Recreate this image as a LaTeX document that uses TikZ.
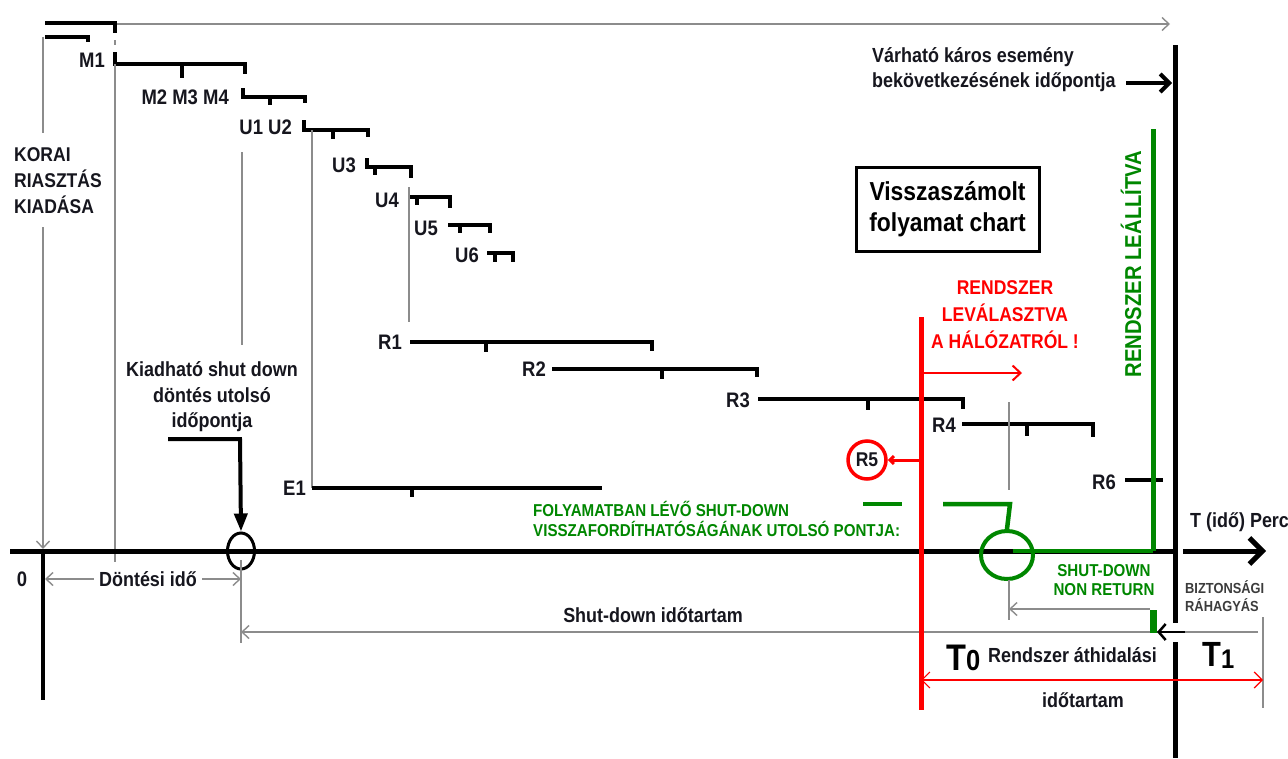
\documentclass[tikz,border=0pt]{standalone}
\usepackage{fontspec}
\setmainfont{Liberation Sans}[FakeStretch=0.88]
\usetikzlibrary{arrows.meta,shapes.geometric}
\definecolor{grn}{RGB}{0,135,0}
\definecolor{rd}{RGB}{255,0,0}
\definecolor{guidegray}{RGB}{140,140,140}
\definecolor{ink}{RGB}{22,22,30}
\definecolor{softink}{RGB}{60,60,60}
% a horizontal activity bar: start x, end x, level y, tick x, drop of the end hook, drop of the tick
\newcommand{\tickbar}[6]{%
  \draw[bar] (#1,#3) -- (#2,#3) -- (#2,#3+#5);
  \draw[bar] (#4,#3) -- (#4,#3+#6);}
\begin{document}
\begin{tikzpicture}[x=1pt,y=-1pt,
  lbl/.style={font=\bfseries\fontsize{21}{25}\selectfont, text=ink, inner sep=0pt},
  txt/.style={font=\bfseries\fontsize{20.4}{25.5}\selectfont, text=ink, inner sep=0pt, align=center},
  bar/.style={line width=4pt, line join=miter},
  guide/.style={draw=guidegray, line width=1.4pt},
  garrow/.style={guide, -{Straight Barb[length=7pt,width=13pt]}},
  gdarrow/.style={guide, {Straight Barb[length=7pt,width=13pt]}-{Straight Barb[length=7pt,width=13pt]}},
]
\fill[white] (0,0) rectangle (1288,758);
\useasboundingbox (0,0) rectangle (1288,758);

% ---------- top: early warning bars and overall time arrow ----------
\coordinate (topL) at (115,24);
\coordinate (topR) at (1170,24);
\draw[garrow] (topL) -- (topR);
\draw[bar] (45,23) -- (115,23) -- (115,33);
\draw[bar] (45,37) -- (88,37) -- (88,42);
\draw[guide] (43,37) -- (43,133);
\coordinate (zeroTop) at (43,227);
\coordinate (zeroAx) at (43,549);
\draw[garrow] (zeroTop) -- (zeroAx);
\draw[guide] (115,40) -- (115,45);

% ---------- M and U bars ----------
\draw[bar] (115,52) -- (115,64) -- (245,64) -- (245,74);
\draw[bar] (182,64) -- (182,78);
\draw[guide] (115,64) -- (115,562);

\draw[bar] (243,88) -- (243,97) -- (305,97) -- (305,103);
\draw[bar] (270,97) -- (270,105);

\draw[bar] (304,120) -- (304,130) -- (368,130) -- (368,137);
\draw[bar] (333,130) -- (333,139);
\draw[guide] (312,130) -- (312,488);

\draw[bar] (367,158) -- (367,167) -- (411,167) -- (411,178);
\draw[bar] (375,167) -- (375,175);

\tickbar{410}{450}{197}{417}{11}{8}
\draw[guide] (409,187) -- (409,322);
\tickbar{448}{490}{225}{460}{8}{8}
\tickbar{487}{513}{253}{495}{9}{9}

\draw[guide] (242,152) -- (242,345);

% ---------- R and E bars ----------
\tickbar{410}{652}{342}{486}{9}{10}
\tickbar{552}{757}{369}{662}{8}{10}
\tickbar{758}{963}{399}{868}{10}{11}
\tickbar{962}{1093}{424}{1027}{13}{12}
\draw[bar] (1125,480) -- (1163,480);
\tickbar{312}{602}{488}{412}{0}{9}

% ---------- labels ----------
\node[lbl, anchor=east] (m1) at (105,60) {M1};
\node[lbl, anchor=east] (m234) at (229,97) {M2 M3 M4};
\node[lbl, anchor=east] (u12) at (292,127) {U1 U2};
\node[lbl, anchor=east] (u3) at (356,165) {U3};
\node[lbl, anchor=east] (u4) at (399,200) {U4};
\node[lbl, anchor=east] (u5) at (438,228) {U5};
\node[lbl, anchor=east] (u6) at (479,255) {U6};
\node[lbl, anchor=east] (r1) at (402,342) {R1};
\node[lbl, anchor=east] (r2) at (546,369) {R2};
\node[lbl, anchor=east] (r3) at (750,400) {R3};
\node[lbl, anchor=east] (r4) at (956,425) {R4};
\node[lbl, anchor=east] (r6) at (1116,482) {R6};
\node[lbl, anchor=east] (e1) at (306,488) {E1};

\node[txt, align=left, anchor=west, font=\bfseries\fontsize{19.9}{26}\selectfont] (korai) at (14,181)
  {KORAI\\RIASZTÁS\\KIADÁSA};

\node[txt] (kiad) at (212,397) {Kiadható shut down\\döntés utolsó\\időpontja};

\node[txt, align=left, anchor=west, font=\bfseries\fontsize{20.4}{25}\selectfont] (varhato) at (872,70)
  {Várható káros esemény\\bekövetkezésének időpontja};

\node[draw=black, line width=3pt, minimum width=183pt, minimum height=84pt, inner sep=0pt,
      align=center, font=\bfseries\fontsize{26}{31}\selectfont] (chart) at (947.5,209)
  {Visszaszámolt\\folyamat chart};

\node[txt, text=rd, font=\bfseries\fontsize{19.9}{27}\selectfont] (levalaszt) at (1005,315)
  {RENDSZER\\LEVÁLASZTVA\\A HÁLÓZATRÓL !};

\node[txt, text=grn, rotate=90, font=\bfseries\fontsize{23}{26}\selectfont] (leallit) at (1131,264)
  {RENDSZER LEÁLLÍTVA};

\node[txt, text=grn, align=left, anchor=west, font=\bfseries\fontsize{17.2}{20}\selectfont] (folyamat) at (533,519)
  {FOLYAMATBAN LÉVŐ SHUT-DOWN\\VISSZAFORDÍTHATÓSÁGÁNAK UTOLSÓ PONTJA:};

\node[txt, text=grn, font=\bfseries\fontsize{17.2}{19}\selectfont] (nonret) at (1104,580)
  {SHUT-DOWN\\NON RETURN};

\node[txt, text=softink, align=left, anchor=west, font=\bfseries\fontsize{14.6}{18}\selectfont] (bizt) at (1185,596)
  {BIZTONSÁGI\\RÁHAGYÁS};

\node[txt, anchor=west] (tperc) at (1190,522) {T (idő) Perc};
\node[txt, font=\bfseries\fontsize{21}{25}\selectfont] (nulla) at (22,579) {0};
\node[txt] (shutdur) at (653,615) {Shut-down időtartam};
\node[txt, anchor=west] (athid) at (988,655) {Rendszer áthidalási};
\node[txt] (idotart) at (1083,700) {időtartam};
\node[inner sep=0pt, anchor=base west, text=black] (tnull) at (946,670)
  {\bfseries\fontsize{37}{40}\selectfont T\fontsize{29}{32}\selectfont 0};
\node[inner sep=0pt, anchor=base west, text=black] (tegy) at (1202,666)
  {\bfseries\fontsize{35}{40}\selectfont T\fontsize{27}{32}\selectfont\raisebox{-2pt}{1}};

% ---------- time axis ----------
\coordinate (axL) at (10,551);
\coordinate (axM) at (1175,551);
\coordinate (axA) at (1183,551);
\coordinate (axR) at (1266,551);
\draw[line width=5pt] (axL) -- (axM);
\draw[line width=5pt, -{Straight Barb[length=13pt,width=26pt]}] (axA) -- (axR);
\draw[line width=3.5pt] (43,551) -- (43,700);

% deadline of the harmful event
\coordinate (vS) at (1126,83);
\coordinate (vE) at (1172,83);
\draw[line width=5pt] (1175,45) -- (1175,623);
\draw[line width=5pt] (1175,642) -- (1175,758);
\draw[line width=4pt, -{Straight Barb[length=9pt,width=18pt]}] (vS) -- (vE);

% decision time
\coordinate (dS) at (45,579);
\coordinate (dE) at (241,579);
\draw[gdarrow] (dS) -- (dE);
\node[txt, fill=white, inner xsep=5pt, inner ysep=2pt] (dontes) at (148,579) {Döntési idő};

% last shut-down decision point
\node[draw=black, line width=3pt, ellipse, minimum width=27pt, minimum height=36pt, inner sep=0pt] (decis) at (241,551) {};
\draw[line width=4pt, -{Triangle[length=18pt,width=13pt]}] (168,439) -- (240,439) -- (decis.north);
\draw[guide] (241,560) -- (241,643);

% shut-down duration
\draw[garrow] (1258,632) -- (241,632);
\draw[line width=2.5pt, -{Straight Barb[length=7pt,width=16pt]}] (1185,632) -- (1157,632);
\draw[guide] (1263,617) -- (1263,708);

% red: system separated from the grid
\draw[rd, line width=5pt] (921,317) -- (921,710);
\draw[rd, line width=2pt, -{Straight Barb[length=8pt,width=15pt]}] (921,373) -- (1022,373);
\node[draw=rd, line width=3.5pt, circle, minimum size=38pt, inner sep=0pt, font=\bfseries\fontsize{19.9}{22}\selectfont, text=ink] (r5) at (867,460) {R5};
\draw[rd, line width=3pt, -{Straight Barb[length=4pt,width=8pt]}] (921,460) -- (r5.east);
\draw[rd, line width=1.2pt, {Straight Barb[length=8pt,width=16pt]}-{Straight Barb[length=8pt,width=16pt]}] (921,680) -- (1263,680);

% green: point of no return and shut-down completed
\draw[grn, line width=5pt] (1153,129) -- (1153,551);
\draw[grn, line width=7pt] (1153,610) -- (1153,633);
\node[draw=grn, line width=4pt, ellipse, minimum width=52pt, minimum height=48pt, inner sep=0pt] (nrpt) at (1007,555) {};
\draw[grn, line width=4.5pt] (1013,551) -- (1153,551);
\draw[grn, line width=4.5pt] (943,504) -- (1010,504) -- (nrpt.north);
\draw[grn, line width=4.5pt] (863,504) -- (902,504);
\draw[guide] (1009,402) -- (1009,490);
\draw[guide] (1009,580) -- (1009,620);
\draw[garrow] (1150,609) -- (1009,609);
\end{tikzpicture}
\end{document}
